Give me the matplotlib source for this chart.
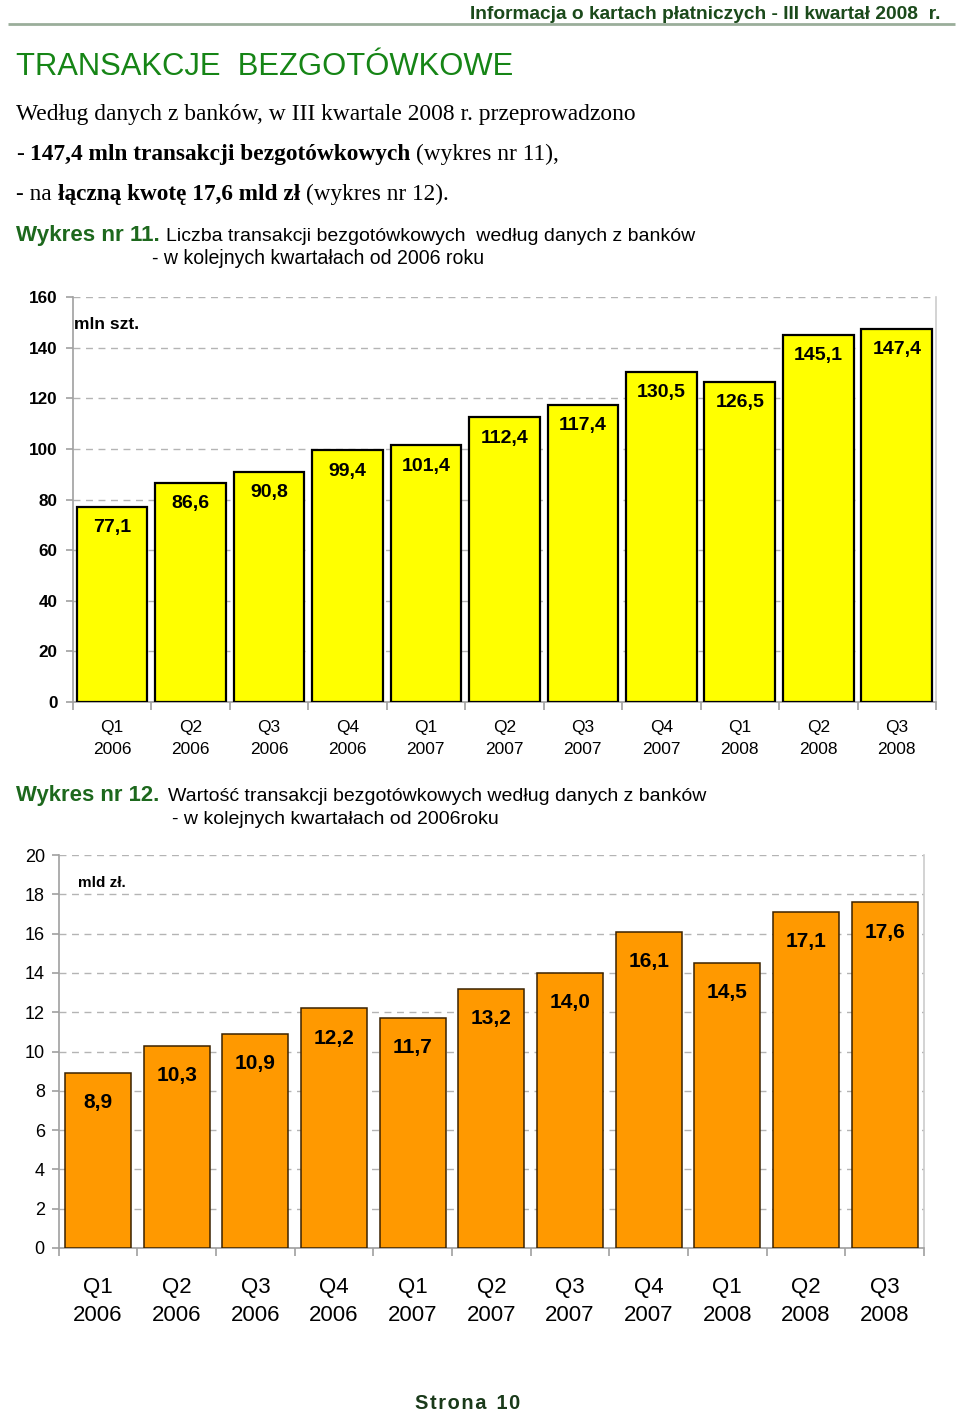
import matplotlib
matplotlib.use('Agg')
import matplotlib.pyplot as plt
import numpy as np

# ---------------- data ----------------
quarters = ['Q1\n2006', 'Q2\n2006', 'Q3\n2006', 'Q4\n2006',
            'Q1\n2007', 'Q2\n2007', 'Q3\n2007', 'Q4\n2007',
            'Q1\n2008', 'Q2\n2008', 'Q3\n2008']
count_values = [77.1, 86.6, 90.8, 99.4, 101.4, 112.4, 117.4, 130.5, 126.5, 145.1, 147.4]
value_values = [8.9, 10.3, 10.9, 12.2, 11.7, 13.2, 14.0, 16.1, 14.5, 17.1, 17.6]
count_ticks = [0, 20, 40, 60, 80, 100, 120, 140, 160]
value_ticks = [0, 2, 4, 6, 8, 10, 12, 14, 16, 18, 20]


def pl(v):
    return f"{v:.1f}".replace('.', ',')


SANS = ['Liberation Sans', 'DejaVu Sans']
SERIF = ['Liberation Serif', 'DejaVu Serif']

plt.rcParams['font.family'] = SANS

W, H = 960, 1417
fig = plt.figure(figsize=(9.6, 14.17), dpi=100)
fig.patch.set_facecolor('white')
bg = fig.add_axes([0, 0, 1, 1])
bg.set_xlim(0, W)
bg.set_ylim(H, 0)
bg.axis('off')
bg.set_zorder(-1)

renderer = fig.canvas.get_renderer()


def width_of(t):
    return t.get_window_extent(renderer).width


def space_w(props):
    a = bg.text(0, 0, 'x x', **props)
    b = bg.text(0, 0, 'xx', **props)
    w = width_of(a) - width_of(b)
    a.remove(); b.remove()
    return w


def seg_line(x, y, segs, target=None, ha='left'):
    texts = [bg.text(0, y, s, va='baseline', **p) for s, p in segs]
    def total():
        tw = sum(width_of(t) for t in texts)
        for (s, p), t in zip(segs[1:], texts[1:]):
            pp = dict(p); pp['fontsize'] = t.get_fontsize()
            tw += space_w(pp)
        return tw
    if target is not None:
        k = target / total()
        for t in texts:
            t.set_fontsize(t.get_fontsize() * k)
    tw = total()
    cx = x if ha == 'left' else (x - tw if ha == 'right' else x - tw / 2)
    for i, ((s, p), t) in enumerate(zip(segs, texts)):
        if i > 0:
            pp = dict(p); pp['fontsize'] = t.get_fontsize()
            cx += space_w(pp)
        t.set_x(cx)
        cx += width_of(t)
    return texts


# ---------------- page texts ----------------
HEAD_GREEN = '#1b4a1b'
TITLE_GREEN = '#168516'
WYK_GREEN = '#1d681d'

seg_line(940, 19, [("Informacja o kartach płatniczych - III kwartał 2008  r.",
                    dict(fontsize=13, fontweight='bold', color=HEAD_GREEN, family=SANS))], 470, ha='right')
bg.plot([8, 955], [23.5, 23.5], color='#9aae9a', lw=2.0, solid_capstyle='butt')

seg_line(16, 75, [("TRANSAKCJE  BEZGOTÓWKOWE", dict(fontsize=24, color=TITLE_GREEN, family=SANS))], 499)

reg = dict(fontsize=16, color='black', family=SERIF)
bold = dict(fontsize=16, color='black', family=SERIF, fontweight='bold')
seg_line(16, 120, [("Według danych z banków, w III kwartale 2008 r. przeprowadzono", reg)], 621)
seg_line(16, 160, [("-", reg), ("147,4 mln transakcji bezgotówkowych", bold), ("(wykres nr 11),", reg)], 544)
seg_line(16, 200, [("- na", reg), ("łączną kwotę 17,6 mld zł", bold), ("(wykres nr 12).", reg)], 434)

wyk_b = dict(fontsize=14, fontweight='bold', color=WYK_GREEN, family=SANS)
wyk_r = dict(fontsize=12, color='black', family=SANS)
seg_line(16, 241, [("Wykres nr 11.", wyk_b)], 144)
seg_line(166, 241, [("Liczba transakcji bezgotówkowych  według danych z banków", wyk_r)], 527)
seg_line(152, 264, [("- w kolejnych kwartałach od 2006 roku", wyk_r)], 333)

seg_line(16, 801, [("Wykres nr 12.", wyk_b)], 144)
seg_line(168, 801, [("Wartość transakcji bezgotówkowych według danych z banków", wyk_r)], 536)
seg_line(172, 824, [("- w kolejnych kwartałach od 2006roku", wyk_r)], 326)

strona = "\u200a".join("Strona") + "\u2002" + "\u200a".join("10")
seg_line(468, 1409, [(strona, dict(fontsize=14, fontweight='bold', color='#1a3a1a',
                                   family=SANS))], 106, ha='center')


# ---------------- charts ----------------
def fax(l, t, r, b):
    return fig.add_axes([l / W, (H - b) / H, (r - l) / W, (b - t) / H])


def style_axes(ax, ticks, xlab_size, xpad, xls, ylab_size, ypad, ybold):
    ax.set_xlim(-0.5, len(quarters) - 0.5)
    ax.set_ylim(ticks[0], ticks[-1])
    ax.set_yticks(ticks)
    ax.set_yticklabels([str(t) for t in ticks],
                       fontweight='bold' if ybold else 'normal', fontsize=ylab_size)
    ax.yaxis.grid(True, linestyle=(0, (5, 4)), color='#b4b4b4', linewidth=1)
    ax.set_axisbelow(True)
    ax.spines['top'].set_visible(False)
    ax.spines['left'].set_color('#a0a0a0')
    ax.spines['bottom'].set_color('#a0a0a0')
    ax.spines['right'].set_color('#cccccc')
    for s in ax.spines.values():
        s.set_linewidth(1.2)
    ax.set_xticks(np.arange(len(quarters)))
    ax.set_xticklabels(quarters, fontsize=xlab_size, linespacing=xls)
    ax.tick_params(axis='x', which='major', length=0, pad=xpad)
    ax.set_xticks(np.arange(-0.5, len(quarters), 1), minor=True)
    ax.tick_params(axis='x', which='minor', length=6, color='#a0a0a0', width=1.2)
    ax.tick_params(axis='y', length=5, color='#a0a0a0', pad=ypad, width=1.2)


x = np.arange(len(quarters))

# Chart 11
ax1 = fax(72.7, 297, 936, 702)
ax1.bar(x, count_values, width=0.9, color='#FFFF00', edgecolor='black', linewidth=1.6, zorder=3)
style_axes(ax1, count_ticks, 12.5, 13, 1.62, 12.3, 6, True)
for xi, v in zip(x, count_values):
    ax1.annotate(pl(v), (xi, v), xytext=(0, -15), textcoords='offset points',
                 ha='center', va='center', fontsize=14, fontweight='bold', zorder=5)
ax1.text(0.0015, 0.932, 'mln szt.', transform=ax1.transAxes, fontsize=12.5,
         fontweight='bold', ha='left', va='center')

# Chart 12
ax2 = fax(58.7, 855, 924, 1248)
ax2.bar(x, value_values, width=0.84, color='#FF9900', edgecolor='#3a2200', linewidth=1.1, zorder=3)
style_axes(ax2, value_ticks, 16, 21, 1.45, 13, 5, False)
for xi, v in zip(x, value_values):
    ax2.annotate(pl(v), (xi, v), xytext=(0, -21.5), textcoords='offset points',
                 ha='center', va='center', fontsize=15, fontweight='bold', zorder=5)
ax2.text(0.022, 0.93, 'mld zł.', transform=ax2.transAxes,
         fontsize=11, fontweight='bold', ha='left', va='center')

fig.savefig('out.png', dpi=100, facecolor='white')
